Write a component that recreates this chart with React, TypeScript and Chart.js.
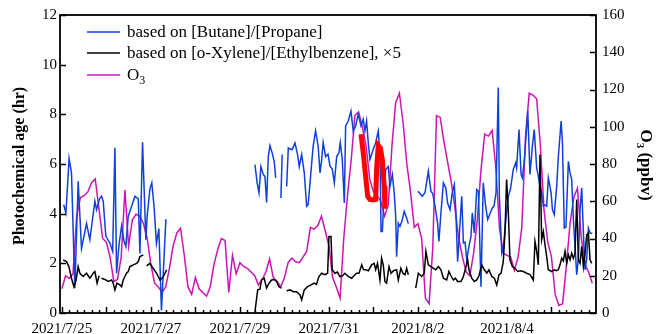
import React, { useEffect, useRef } from 'react';
import { Chart, registerables } from 'chart.js';

Chart.register(...registerables);

// ---- axis labels / ticks ----
const dayLabels = ['2021/7/25', '2021/7/27', '2021/7/29', '2021/7/31', '2021/8/2', '2021/8/4'];
const dayLabelHours = [0, 48, 96, 144, 192, 240];
const leftTicks = [0, 2, 4, 6, 8, 10, 12];
const rightTicks = [0, 20, 40, 60, 80, 100, 120, 140, 160];
const legendLabels = ['based on [Butane]/[Propane]', 'based on [o-Xylene]/[Ethylbenzene], \u00d75', 'O'];

// ---- series: hours since 2021/7/25 00:00 ----
const blueHours = [
  1, 2.2, 3.9, 5.2, 7, 8.8, 10.6, 13.3, 15.1, 17.8, 18.7, 20.3, 21.4, 22.3, 23.7, 26, 27.4, 28.6, 29.5, 30.9,
  32.2, 33.5, 34.5, 35.8, 37, 39.4, 41.2, 42.1, 43.5, 45.3, 46, 47.5, 48.5, 49.7, 51, 52.3, 53.7, 56.1,
  80,
  104.1, 105.3, 106.3, 107.3, 108.6, 109.5, 110.4, 111.3, 112.2, 113.4, 114.5, 115.3,
  116.5,
  118.1, 118.8,
  120,
  121.2, 122.1, 123.0, 124.2, 125.7, 127.1, 128.0, 129.3, 130.7, 132.0, 132.8, 133.8, 135.5, 136.8, 138.2,
  139.2, 140.1, 140.9, 142.2, 143.5, 144.6, 145.8, 146.9, 148.2, 149.4, 150.1, 151.2, 152.3, 153.0, 154.4,
  155.9, 157.1, 158.4, 159.8, 161.3, 162.5, 163.4, 164.3, 165.2, 166.1, 167.9, 169.2, 170.6, 171.5, 172.1,
  172.8, 173.8, 174.6, 176.0, 176.9, 178.2, 179.2, 180.0, 180.5, 181.4, 182.3, 183.4, 184.6, 185.9, 186.8,
  189,
  192, 194.3, 195.8, 197.6, 199.0, 200.0, 201.2, 202.6, 203.3, 204.4, 205.7, 207.0, 208.0, 209.3, 210.5,
  211.6, 212.4, 213.4, 214.2, 215.6, 216.5, 217.4, 218.3, 219.3, 220.6, 221.3, 222.4, 223.7, 224.6, 226.0,
  227.2, 228.5, 229.6, 230.8, 232.1, 233.0, 234.1, 235.3, 235.9, 237.2, 238.0, 239.2, 240.7, 241.9, 243.4,
  244.7, 245.2, 246.5, 247.6, 248.3, 249.4, 251.2, 252.4, 253.7, 254.7, 256.0, 256.9, 257.8, 258.7, 259.6,
  260.5, 261.4, 262.3, 263.8, 264.5, 265.5, 266.8, 267.7, 269.2, 269.9, 270.9, 271.8, 273.1, 274.0, 274.9,
  275.8, 276.7, 277.6, 278.5, 279.4, 280.3, 281.2, 282.1, 283.0, 283.9, 284.8, 286.0,
];
const blueValues = [
  4.36, 4.03, 6.22, 5.64, 1.0, 5.3, 2.6, 3.6, 2.95, 4.5, 4.16, 4.6, 4.7, 4.5, 3.1, 2.8, 2.48, 6.65, 1.6, 2.8,
  3.5, 2.9, 2.68, 3.9, 4.16, 4.7, 4.6, 2.4, 6.88, 2.95, 3.9, 5.0, 5.24, 4.3, 2.8, 3.4, 0.1, 3.78,
  null,
  5.98, 5.24, 4.84, 5.9, 5.58, 5.5, 4.45, 6.3, 6.74, 6.45, 6.1, 5.44,
  null,
  4.63, 6.38,
  null,
  5.1, 6.65, 6.6, 6.58, 6.85, 6.38, 5.89, 6.38, 5.64, 4.3, 4.36, 5.24, 6.72, 7.33, 6.72,
  5.64, 6.18, 6.86, 6.3, 6.4, 5.9, 5.8, 5.24, 6.3, 6.45, 6.86, 6.18, 4.43, 7.53, 7.73,
  8.13, 7.33, 7.53, 8.0, 7.53, 7.8, 7.33, 7.73, 6.86, 6.18, 6.59, 6.86, 7.33, 6.45, 3.28,
  3.28, 4.84, 5.78, 5.9, 5.1, 5.58, 4.84, 3.89, 2.27, 3.62, 3.49, 3.7, 4.09, 3.83, 3.6,
  null,
  4.9, 4.7, 4.84, 5.71, 4.9, 4.8, 4.3, 3.62, 2.88, 4.03, 5.24, 5.04, 4.43, 4.16, 4.84,
  5.17, 4.16, 2.07, 3.0, 4.7, 2.82, 2.85, 2.14, 2.6, 3.08, 4.03, 3.22, 4.97, 4.9, 1.06,
  5.24, 4.3, 3.76, 4.0, 4.23, 4.3, 4.84, 9.08, 4.7, 2.41, 2.6, 3.6, 4.7, 5.0, 5.78,
  6.05, 5.85, 7.39, 5.58, 5.44, 6.18, 8.13, 5.58, 6.72, 7.39, 5.85, 5.5, 5.1, 4.84, 4.3,
  4.35, 4.3, 5.44, 4.84, 4.16, 3.96, 5.1, 6.3, 7.73, 6.86, 3.42, 3.45, 6.11, 5.64, 5.37,
  3.76, 2.68, 1.54, 2.2, 4.16, 5.04, 3.22, 1.74, 2.2, 3.42, 3.22, 3.2,
];

const blackHours = [
  0.7, 2.5, 3.8, 5.2, 6.5, 7.6, 8.8, 9.7, 11.5, 13.3, 15.1, 16.9, 17.8, 19.0, 20.1,
  20.7,
  21.4, 23.2, 25.0, 26.8, 27.7, 28.6, 29.7, 31.3, 32.2, 33.1, 34.0, 34.9, 35.8, 36.7, 38.5, 40.3, 41.2, 42.1, 43.9,
  44.8,
  45.7, 47.5, 49.2, 51.1, 52.9, 54.6, 56.5,
  80,
  104.1, 105.6, 106.8, 107.7, 109.1, 110.4, 111.7, 113.1, 114.5, 115.8, 117.0, 118.5,
  120,
  121.2, 123.0, 124.8, 126.6, 128.4, 129.3, 130.7, 132.5, 134.3, 136.1, 137.3, 138.6, 140.1, 141.9, 143.3,
  144.0, 145.1, 145.8, 147.2, 148.6, 149.9, 151.3, 152.6, 154.4, 156.3, 157.5, 158.9, 160.2, 161.7, 162.6,
  163.8, 165.3, 167.0, 168.4, 169.2, 170.2, 171.5, 172.4, 173.3, 174.2, 175.1, 176.4, 177.5, 178.8, 180.5,
  181.4, 182.8, 183.9, 185.0, 185.9, 186.8,
  189,
  190.8, 192.2, 194.0, 195.4, 196.3, 197.6, 199.0, 200.4, 201.6, 203.0, 204.4, 205.7, 207.5, 208.7, 209.8,
  211.1, 212.2, 213.4, 215.2, 216.5, 217.7, 218.8, 219.5, 221.0, 222.4, 223.7, 224.9, 226.4, 227.8, 229.1,
  230.3, 231.8, 233.2, 234.5, 235.7, 236.8, 238.0, 238.9, 239.8, 240.7, 241.6, 242.9, 244.3, 245.8, 247.3,
  248.8, 250.6, 252.4, 254.2, 255.1, 256.0, 256.9, 257.8, 258.7, 259.6, 260.5, 261.4, 262.3, 264.1, 265.5,
  266.7, 267.7, 268.6, 269.5, 270.4, 271.3, 272.2, 273.1, 274.0, 274.9, 275.8, 276.7, 277.6, 278.5, 279.4,
  280.3, 281.2, 282.1, 283.0, 283.9, 284.8, 285.7,
];
const blackValues = [
  2.14, 2.07, 1.87, 1.4, 1.06, 1.3, 1.87, 1.6, 1.47, 1.6, 1.4, 1.6, 1.67, 1.2, 1.5,
  null,
  1.4, 1.35, 1.27, 1.33, 1.2, 0.93, 1.2, 1.13, 1.06, 1.33, 1.47, 1.6, 1.67, 1.87, 1.94, 2.0, 2.07, 2.27, 2.34,
  null,
  1.9, 2.0, 1.8, 1.6, 1.33, 1.45, 1.74,
  null,
  0.05, 0.93, 0.96, 1.33, 1.4, 1.0, 1.2, 1.33, 1.35, 1.27, 1.06, 1.0,
  null,
  0.9, 0.93, 0.86, 0.86, 0.73, 0.53, 0.93, 1.06, 1.13, 1.2, 1.15, 1.47, 1.6, 1.54, 1.6,
  3.08, 3.08, 1.74, 1.6, 1.65, 1.47, 1.5, 1.6, 1.47, 1.4, 1.5, 1.6, 1.6, 1.94, 1.75,
  1.74, 1.7, 1.94, 2.0, 1.75, 2.0, 1.33, 2.21, 1.94, 1.27, 1.2, 1.87, 1.6, 1.7, 1.74,
  1.33, 1.8, 1.6, 1.54, 1.8, 1.54,
  null,
  1.0, 1.6, 1.47, 1.6, 2.48, 1.94, 1.87, 1.8, 1.74, 1.87, 1.74, 1.4, 1.33, 1.67, 1.5,
  1.33, 1.4, 1.27, 1.27, 1.47, 1.8, 2.14, 1.74, 1.4, 1.27, 1.33, 1.5, 1.94, 1.74, 1.6,
  1.74, 1.47, 1.4, 1.13, 1.54, 1.6, 2.07, 3.22, 5.37, 4.16, 2.14, 1.87, 1.8, 1.67, 1.7,
  1.67, 1.6, 1.55, 1.33, 2.88, 2.5, 1.94, 6.38, 2.95, 3.28, 2.75, 2.27, 1.74, 1.67, 1.74,
  1.7, 1.74, 1.94, 2.21, 2.1, 2.48, 2.0, 2.34, 2.14, 2.41, 2.2, 2.41, 4.57, 2.14, 2.0,
  2.68, 1.87, 2.41, 3.15, 3.22, 2.14, 2.0,
];

const redHours = [161.3, 162.5, 163.8, 164.9, 166.1, 167.9, 169.2, 169.7, 170.6, 171.7, 172.8, 173.8, 174.2];
const redValues = [7.2, 6.45, 5.5, 4.7, 4.57, 4.55, 4.57, 5.78, 6.75, 6.65, 6.18, 5.1, 4.2];

// O3 (ppbv), every 2 hours from 2021/7/25 00:00
const o3Values = [
  13, 20, 18.5, 21, 52, 62, 63, 65, 70, 72, 56, 40, 38, 30, 17, 18, 30, 66, 36, 50,
  53, 52, 48, 40, 26, 16, 14, 11, 14, 24, 36, 43, 45.5, 31, 14, 10, 19, 13, 11, 9,
  14, 26, 34, 40, 39, 11, 31, 21, 27, 25, 24, 22, 20, 15, 18, 22, 29, 19, 17, 14,
  19, 27, 29.5, 27.5, 27, 30, 33, 46, 45, 47, 52, 44, 36, 19, 14, 8, 40, 63, 82, 106,
  108, 100, 90, 72, 65, 63, 60, 52, 58, 90, 113, 118, 102, 80, 65, 46, 48, 40, 8, 5,
  35, 106, 105, 92, 81, 70, 56, 40, 30, 22, 20, 32, 50, 77, 96, 95, 98, 78, 45, 32,
  31, 30, 23, 30, 46, 95, 118, 117, 115, 90, 55, 38, 30, 10, 4, 5, 25, 48, 62, 67,
  41, 26, 22, 16,
];
const o3Hours = o3Values.map((_, i) => i * 2);

const FONT = "'Liberation Serif', 'Times New Roman', serif";
const BLUE = '#1040d8';
const MAGENTA = '#cc14b4';

const pts = (xs: number[], ys: (number | null)[]) => xs.map((x, i) => ({ x, y: ys[i] }));

const decorPlugin = {
  id: 'decor',
  afterDatasetsDraw(chart: any) {
    const { ctx, chartArea: a, scales } = chart;
    const x = scales.x, y = scales.y, y1 = scales.y1;
    ctx.save();
    ctx.strokeStyle = '#000';
    ctx.lineWidth = 1.5;
    ctx.beginPath();
    // x ticks: minor every 4 h, major each day
    for (let h = 0; h <= 284; h += 4) {
      const px = Math.round(x.getPixelForValue(h)) + 0.5;
      const len = h % 24 === 0 ? 6 : 3;
      ctx.moveTo(px, a.bottom);
      ctx.lineTo(px, a.bottom - len);
    }
    leftTicks.forEach((v) => {
      const py = Math.round(y.getPixelForValue(v)) + 0.5;
      ctx.moveTo(a.left, py);
      ctx.lineTo(a.left + 6, py);
    });
    rightTicks.forEach((v) => {
      const py = Math.round(y1.getPixelForValue(v)) + 0.5;
      ctx.moveTo(a.right, py);
      ctx.lineTo(a.right - 6, py);
    });
    ctx.stroke();
    ctx.lineWidth = 1.8;
    ctx.strokeRect(a.left, a.top, a.right - a.left, a.bottom - a.top);
    ctx.restore();
  },
  afterDraw(chart: any) {
    const { ctx } = chart;
    ctx.save();
    // legend
    const colors = [BLUE, '#000', MAGENTA];
    const ys = [32, 53, 75];
    ctx.textBaseline = 'middle';
    ctx.fillStyle = '#000';
    ys.forEach((yy, i) => {
      ctx.strokeStyle = colors[i];
      ctx.lineWidth = 1.6;
      ctx.beginPath();
      ctx.moveTo(87, yy);
      ctx.lineTo(120, yy);
      ctx.stroke();
      ctx.font = `17px ${FONT}`;
      ctx.fillText(legendLabels[i], 127, yy + 1);
      if (i === 2) {
        const w = ctx.measureText('O').width;
        ctx.font = `12px ${FONT}`;
        ctx.fillText('3', 127 + w, yy + 6);
      }
    });
    // left axis title
    ctx.font = `bold 16px ${FONT}`;
    ctx.textAlign = 'center';
    ctx.translate(20, 166);
    ctx.rotate(-Math.PI / 2);
    ctx.fillText('Photochemical age (hr)', 0, 0);
    ctx.setTransform(1, 0, 0, 1, 0, 0);
    // right axis title
    ctx.translate(645, 165);
    ctx.rotate(Math.PI / 2);
    ctx.textAlign = 'left';
    ctx.font = `bold 17px ${FONT}`;
    const wO = ctx.measureText('O').width;
    const rest = ' (ppbv)';
    const wR = ctx.measureText(rest).width;
    ctx.font = `bold 11px ${FONT}`;
    const w3 = ctx.measureText('3').width;
    const total = wO + w3 + wR;
    let cx = -total / 2;
    ctx.font = `bold 17px ${FONT}`;
    ctx.fillText('O', cx, 0);
    cx += wO;
    ctx.font = `bold 11px ${FONT}`;
    ctx.fillText('3', cx, 5);
    cx += w3;
    ctx.font = `bold 17px ${FONT}`;
    ctx.fillText(rest, cx, 0);
    ctx.restore();
  },
};

export default function App() {
  const ref = useRef<HTMLCanvasElement | null>(null);
  useEffect(() => {
    if (!ref.current) return;
    const tickFont = { family: FONT, size: 15 };
    const chart = new Chart(ref.current, {
      type: 'line',
      data: {
        datasets: [
          { label: 'red', data: pts(redHours, redValues), yAxisID: 'y', borderColor: '#ff0000', borderWidth: 5, pointRadius: 0, tension: 0 },
          { label: legendLabels[1], data: pts(blackHours, blackValues), yAxisID: 'y', borderColor: '#000', borderWidth: 1.5, pointRadius: 0, tension: 0 },
          { label: legendLabels[0], data: pts(blueHours, blueValues), yAxisID: 'y', borderColor: BLUE, borderWidth: 1.5, pointRadius: 0, tension: 0 },
          { label: 'O3', data: pts(o3Hours, o3Values), yAxisID: 'y1', borderColor: MAGENTA, borderWidth: 1.5, pointRadius: 0, tension: 0 },
        ],
      },
      options: {
        animation: false,
        responsive: false,
        maintainAspectRatio: false,
        spanGaps: false,
        layout: { padding: { top: 14, left: 0, right: 0, bottom: 0 } },
        plugins: { legend: { display: false }, tooltip: { enabled: false } },
        scales: {
          x: {
            type: 'linear',
            min: -1,
            max: 288,
            grid: { display: false, drawTicks: false },
            border: { display: false },
            afterBuildTicks: (s: any) => { s.ticks = dayLabelHours.map((v) => ({ value: v })); },
            afterFit: (s: any) => { s.height = 21; },
            ticks: {
              autoSkip: false,
              maxRotation: 0,
              padding: 7,
              color: '#000',
              font: tickFont,
              callback: (v: any) => {
                const i = dayLabelHours.indexOf(Number(v));
                return i >= 0 ? dayLabels[i] : '';
              },
            },
          },
          y: {
            position: 'left',
            min: 0,
            max: 12,
            grid: { display: false, drawTicks: false },
            border: { display: false },
            afterBuildTicks: (s: any) => { s.ticks = leftTicks.map((v) => ({ value: v })); },
            afterFit: (s: any) => { s.width = 60; },
            ticks: { padding: 3, color: '#000', font: tickFont },
          },
          y1: {
            position: 'right',
            min: 0,
            max: 160,
            grid: { display: false, drawTicks: false },
            border: { display: false },
            afterBuildTicks: (s: any) => { s.ticks = rightTicks.map((v) => ({ value: v })); },
            afterFit: (s: any) => { s.width = 63; },
            ticks: { padding: 6, color: '#000', font: tickFont },
          },
        },
      },
      plugins: [decorPlugin],
    });
    return () => chart.destroy();
  }, []);
  return (
    <div style={{ position: 'fixed', left: 0, top: 0, width: 659, height: 334, background: '#fff' }}>
      <canvas ref={ref} width={659} height={334} style={{ width: 659, height: 334, display: 'block' }} />
    </div>
  );
}
